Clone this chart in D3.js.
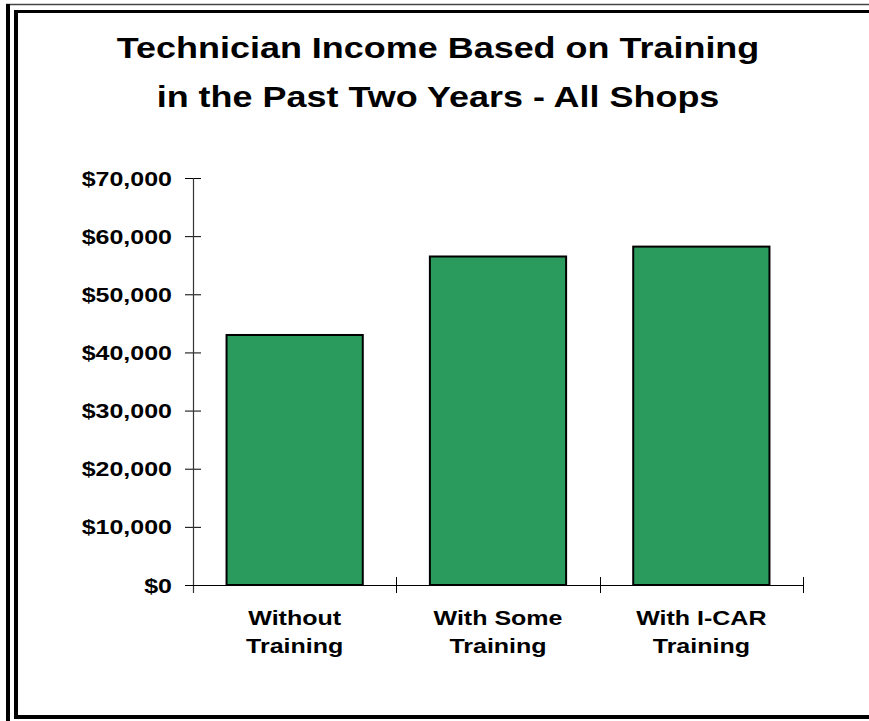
<!DOCTYPE html>
<html><head><meta charset="utf-8">
<script src="https://cdn.jsdelivr.net/npm/d3@7"></script>
<style>body{margin:0;background:#fff}svg{display:block}</style>
</head><body>
<svg id="c" width="869" height="721"></svg>
<script>
const categories = [["Without","Training"],["With Some","Training"],["With I-CAR","Training"]];
const values = [43000, 56500, 58200];
const tickValues = [0,10000,20000,30000,40000,50000,60000,70000];
const titleLines = ["Technician Income Based on Training","in the Past Two Years - All Shops"];

const svg = d3.select("#c");
const font = "'Liberation Sans', Arial, sans-serif";
const sx = 1.25;

// frame
svg.append("line").attr("x1",6).attr("x2",869).attr("y1",4.5).attr("y2",4.5).attr("stroke","#444").attr("stroke-width",1.5);
svg.append("rect").attr("x",6).attr("y",4).attr("width",4).attr("height",717).attr("fill","#000");
svg.append("rect").attr("x",14).attr("y",10).attr("width",855).attr("height",3).attr("fill","#000");
svg.append("rect").attr("x",14).attr("y",10).attr("width",4).attr("height",709).attr("fill","#000");
svg.append("rect").attr("x",14).attr("y",715).attr("width",855).attr("height",4).attr("fill","#000");

// title
svg.append("g").selectAll("text").data(titleLines).join("text")
  .attr("transform",(d,i)=>`translate(438,${58+i*49}) scale(1.24,1)`)
  .attr("text-anchor","middle").attr("font-family",font).attr("font-weight","bold")
  .attr("font-size",29).attr("fill","#000").text(d=>d);

const x = d3.scaleBand().domain(d3.range(categories.length)).range([193,803]).paddingInner(0.33).paddingOuter(0.165);
const y = d3.scaleLinear().domain([0,70000]).range([585,178]);

// bars
svg.append("g").selectAll("rect").data(values).join("rect")
  .attr("x",(d,i)=>x(i)).attr("width",x.bandwidth())
  .attr("y",d=>y(d)).attr("height",d=>y(0)-y(d))
  .attr("fill","#2B9B5D").attr("stroke","#000").attr("stroke-width",2);

// y axis
const yAxis = d3.axisLeft(y).tickValues(tickValues).tickSize(0).tickPadding(21)
  .tickFormat(d=>"$"+d3.format(",")(d));
const gy = svg.append("g").attr("transform","translate(193,0)").call(yAxis);
gy.select(".domain").remove();
gy.selectAll("text").attr("x",0).attr("dy",null).attr("transform",`translate(-21,7) scale(${sx},1)`)
  .attr("font-family",font).attr("font-weight","bold").attr("font-size",20).attr("fill","#000");
svg.append("g").selectAll("line").data(tickValues).join("line")
  .attr("x1",185).attr("x2",201).attr("y1",d=>y(d)+0.5).attr("y2",d=>y(d)+0.5)
  .attr("stroke","#000").attr("stroke-width",1);
svg.append("line").attr("x1",193.5).attr("x2",193.5).attr("y1",178).attr("y2",593).attr("stroke","#333").attr("stroke-width",1.2);

// x axis
svg.append("line").attr("x1",185).attr("x2",803).attr("y1",585.5).attr("y2",585.5).attr("stroke","#000").attr("stroke-width",1);
const bounds = d3.range(1,categories.length+1).map(i=>x(i-1)+x.bandwidth()+x.step()*x.paddingInner()/2);
svg.append("g").selectAll("line").data(bounds).join("line")
  .attr("x1",d=>Math.round(d)+0.5).attr("x2",d=>Math.round(d)+0.5).attr("y1",577).attr("y2",593)
  .attr("stroke","#000").attr("stroke-width",1);

const gx = svg.append("g").selectAll("text").data(categories).join("text")
  .attr("transform",(d,i)=>`translate(${x(i)+x.bandwidth()/2},625) scale(${sx},1)`)
  .attr("text-anchor","middle").attr("font-family",font).attr("font-weight","bold")
  .attr("font-size",20).attr("fill","#000");
gx.selectAll("tspan").data(d=>d).join("tspan")
  .attr("x",0).attr("dy",(d,i)=>i===0?0:28).text(d=>d);
</script>
</body></html>
